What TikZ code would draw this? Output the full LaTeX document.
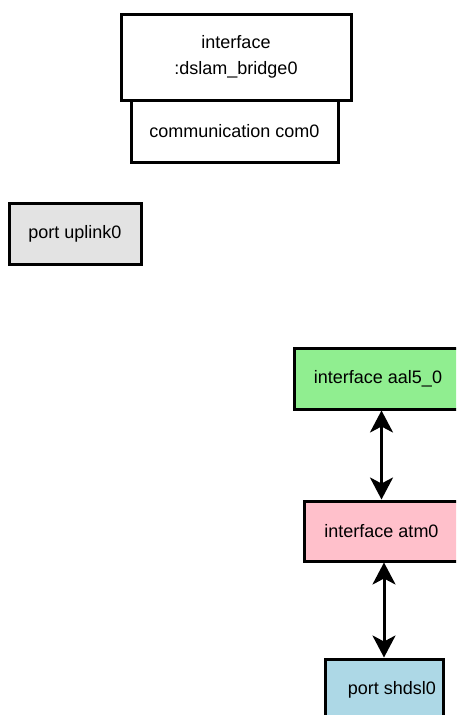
\documentclass[tikz,border=0pt]{standalone}
\usepackage{fontspec}
\setmainfont{Liberation Sans}
\usetikzlibrary{arrows.meta}
\tikzset{
  box/.style={draw=black, line width=3pt, rectangle, inner sep=0pt, align=center,
    font=\fontsize{18}{26}\selectfont},
  link/.style={line width=3pt, {Stealth[length=22pt,width=23pt,inset=6pt]}-{Stealth[length=22pt,width=23pt,inset=6pt]}}
}
\begin{document}
\begin{tikzpicture}[x=1pt,y=-1pt]
\useasboundingbox (0,0) rectangle (456,715);
\clip (0,0) rectangle (456,715);
\node[box, fill=white, minimum width=207pt, minimum height=62pt] (com) at (234.5,131) {communication com0};
\node[box, fill=white, minimum width=230pt, minimum height=86pt] (bridge) at (236,57) {interface\\:dslam\_bridge0};
\node[box, fill=black!11, minimum width=132pt, minimum height=61pt] (uplink) at (75,233.5) {port uplink0};
\node[box, fill={rgb,255:red,144;green,238;blue,144}, minimum width=168pt, minimum height=61pt] (aal) at (378,378.5) {interface aal5\_0};
\node[box, fill={rgb,255:red,255;green,192;blue,203}, minimum width=154pt, minimum height=60pt] (atm) at (381.5,531) {interface atm0};
\node[box, fill={rgb,255:red,173;green,216;blue,230}, minimum width=118pt, minimum height=62pt] (shdsl) at (384,690) {\hspace*{16pt}port shdsl0};
\draw[link] (aal.south -| atm.north) -- (atm.north);
\draw[link] (atm.south -| shdsl.north) -- (shdsl.north);
\end{tikzpicture}
\end{document}
